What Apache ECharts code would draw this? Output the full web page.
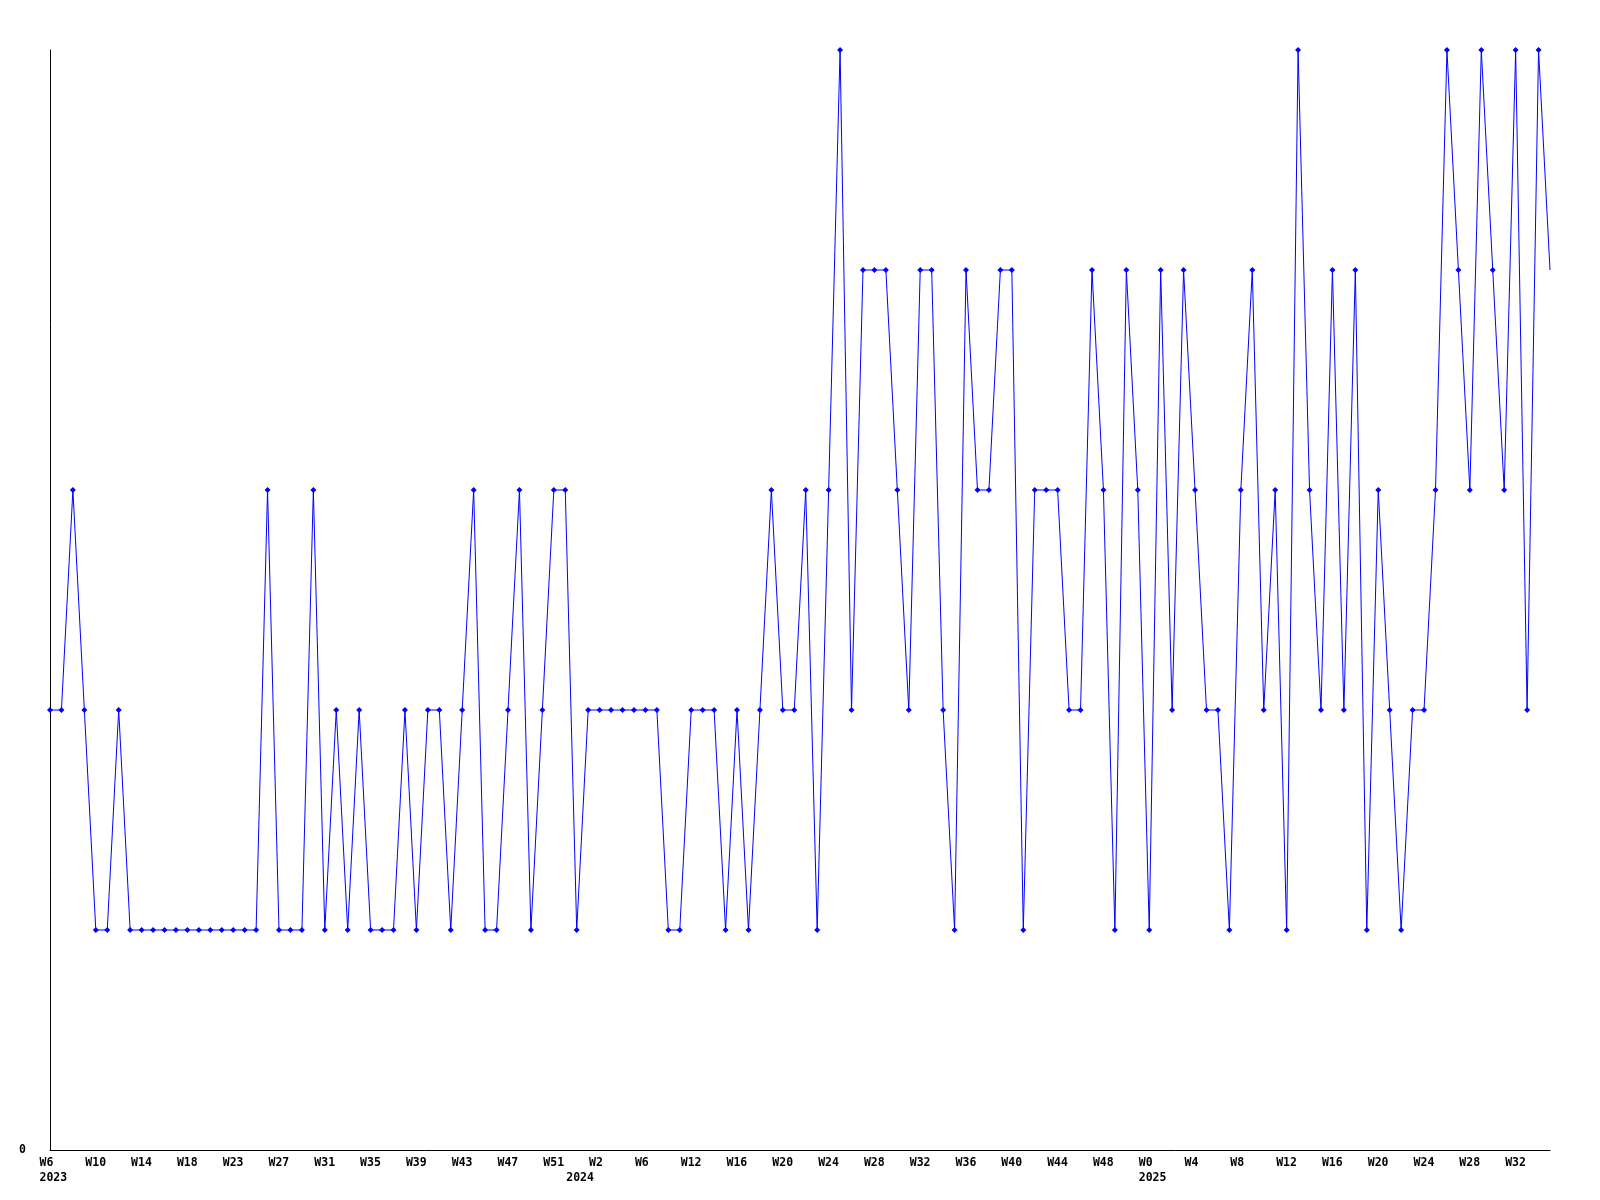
<!DOCTYPE html>
<html><head><meta charset="utf-8">
<script src="https://cdn.jsdelivr.net/npm/echarts@6/dist/echarts.min.js"></script>
<style>html,body{margin:0;padding:0;background:#fff}#c{width:1600px;height:1200px}</style>
</head><body><div id="c"></div>
<script>
const categories = [
  'W6','W7','W8','W9','W10','W11','W12','W13','W14','W15','W16','W17','W18','W19','W20','W21',
  'W23','W24','W25','W26','W27','W28','W29','W30','W31','W32','W33','W34','W35','W36','W37','W38',
  'W39','W40','W41','W42','W43','W44','W45','W46','W47','W48','W49','W50','W51','W52',
  'W0','W1','W2','W3','W4','W5','W6','W7','W9','W10',
  'W12','W13','W14','W15','W16','W17','W18','W19','W20','W21','W22','W23','W24','W25','W26','W27',
  'W28','W29','W30','W31','W32','W33','W34','W35','W36','W37','W38','W39','W40','W41','W42','W43',
  'W44','W45','W46','W47','W48','W49','W50','W51',
  'W0','W1','W2','W3','W4','W5','W6','W7','W8','W9','W10','W11','W12','W13','W14','W15',
  'W16','W17','W18','W19','W20','W21','W22','W23','W24','W25','W26','W27','W28','W29','W30','W31',
  'W32','W33','W34','W35'
];
const values = [
  2,2,3,2,1,1,2,1,1,1,1,1,1,1,1,1,1,1,1,3,1,1,1,3,1,2,1,2,1,1,1,2,1,2,2,1,2,3,1,1,2,3,1,2,3,3,1,2,
  2,2,2,2,2,2,1,1,2,2,2,1,2,1,2,3,2,2,3,1,3,5,2,4,4,4,3,2,4,4,2,1,4,3,3,4,4,1,3,3,3,2,2,4,3,1,4,3,
  1,4,2,4,3,2,2,1,3,4,2,3,1,5,3,2,4,2,4,1,3,2,1,2,2,3,5,4,3,5,4,3,5,2,5,4
];
const yearLabels = ['2023','2024','2025'];
const yearStartIndex = [0, 46, 96];
const yTickLabels = ['0'];

const chart = echarts.init(document.getElementById('c'), null, {renderer: 'canvas'});
const font = 'DejaVu Sans Mono';
const labelBase = {
  fontFamily: font, fontWeight: 'bold', fontSize: 11.5, color: '#000',
  align: 'left', padding: [0, 0, 0, -10.5], margin: 7
};
const option = {
  animation: false,
  backgroundColor: '#fff',
  grid: {left: 50, right: 50, top: 50, bottom: 50, containLabel: false, outerBoundsMode: 'none'},
  xAxis: [
    {
      type: 'category', data: categories, boundaryGap: false,
      axisLine: {show: true, lineStyle: {color: '#000', width: 1}},
      axisTick: {show: false}, splitLine: {show: false},
      axisLabel: Object.assign({}, labelBase, {interval: 3, hideOverlap: false})
    },
    {
      type: 'category', data: categories, boundaryGap: false, position: 'bottom', offset: 15,
      axisLine: {show: false}, axisTick: {show: false}, splitLine: {show: false},
      axisLabel: Object.assign({}, labelBase, {
        interval: function (i) { return yearStartIndex.indexOf(i) >= 0; },
        formatter: function (v, i) { const k = yearStartIndex.indexOf(i); return k >= 0 ? yearLabels[k] : ''; }
      })
    }
  ],
  yAxis: {
    type: 'value', min: 0, max: 5, interval: 5,
    axisLine: {show: true, lineStyle: {color: '#000', width: 1}},
    axisTick: {show: false}, splitLine: {show: false},
    axisLabel: {
      fontFamily: font, fontWeight: 'bold', fontSize: 11.5, color: '#000', margin: 24,
      formatter: function (v) { return v === 0 ? yTickLabels[0] : ''; }
    }
  },
  series: [{
    type: 'line', xAxisIndex: 0, yAxisIndex: 0,
    data: values.map(function (v, i) { return i === values.length - 1 ? {value: v, symbol: 'none'} : v; }),
    symbol: 'diamond', symbolSize: 6, showSymbol: true, showAllSymbol: true,
    lineStyle: {color: '#0000ff', width: 1},
    itemStyle: {color: '#0000ff'},
    emphasis: {disabled: true},
    silent: true
  }]
};
chart.setOption(option);
</script>
</body></html>
